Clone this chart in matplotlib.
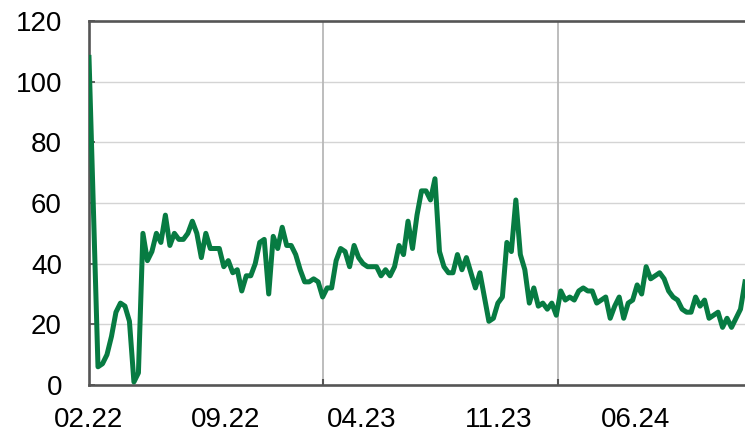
import numpy as np
import pandas as pd
import matplotlib
matplotlib.use("Agg")
from matplotlib import pyplot as plt
import matplotlib.dates as mdates

# weekly series
start_date = "2022-02-01"
values = [108, 57, 6, 7, 10, 16, 24, 27, 26, 21, 1, 4, 50, 41, 44, 50, 47, 56, 46, 50,
          48, 48, 50, 54, 50, 42, 50, 45, 45, 45, 39, 41, 37, 38, 31, 36, 36, 40, 47, 48,
          30, 49, 45, 52, 46, 46, 43, 38, 34, 34, 35, 34, 29, 32, 32, 41, 45, 44, 39, 46,
          42, 40, 39, 39, 39, 36, 38, 36, 39, 46, 43, 54, 45, 56, 64, 64, 61, 68, 44, 39,
          37, 37, 43, 38, 42, 37, 32, 37, 29, 21, 22, 27, 29, 47, 44, 61, 43, 38, 27, 32,
          26, 27, 25, 27, 23, 31, 28, 29, 28, 31, 32, 31, 31, 27, 28, 29, 22, 26, 29, 22,
          27, 28, 33, 30, 39, 35, 36, 37, 35, 31, 29, 28, 25, 24, 24, 29, 26, 28, 22, 23,
          24, 19, 22, 19, 22, 25, 34]

tick_dates = ["2022-02-01", "2022-09-01", "2023-04-01", "2023-11-01", "2024-06-01"]
tick_labels = ["02.22", "09.22", "04.23", "11.23", "06.24"]
grid_dates = ["2023-02-01", "2024-02-01"]
y_ticks = [0, 20, 40, 60, 80, 100, 120]

dates = pd.date_range(start_date, periods=len(values), freq="7D")

plt.rcParams['font.family'] = ['Liberation Sans', 'DejaVu Sans']

fig = plt.figure(figsize=(7.45, 4.32), dpi=100)
ax = fig.add_axes([89 / 745, 1 - 385 / 432, 1 - 89 / 745, (385 - 21) / 432])

spine_col = "#555555"

# horizontal grid
for yv in y_ticks[1:-1]:
    ax.axhline(yv, color="#d4d4d4", lw=1.0, zorder=1)
# vertical grid
for gd in grid_dates:
    ax.axvline(pd.Timestamp(gd), color="#b8b8b8", lw=1.3, zorder=1)

ax.plot(dates, values, color="#077b42", lw=3.6, solid_joinstyle="round", zorder=3)

ax.set_ylim(0, 120)
ax.set_xlim(dates[0], dates[-1])
ax.set_yticks(y_ticks)
ax.tick_params(axis="y", direction="in", length=4, width=1.3, color=spine_col,
               labelsize=20, pad=19.5)

# labels without marks, small marks at the grid positions
ax.set_xticks(pd.to_datetime(tick_dates))
ax.set_xticklabels(tick_labels)
ax.tick_params(axis="x", length=0, labelsize=20, pad=15.5)
ax.set_xticks(pd.to_datetime(grid_dates), minor=True)
ax.tick_params(axis="x", which="minor", direction="in", length=4, width=1.5,
               color=spine_col)

for side in ["left", "top", "bottom"]:
    ax.spines[side].set_color(spine_col)
    ax.spines[side].set_linewidth(1.9)
ax.spines["right"].set_visible(False)

fig.savefig("out.png", dpi=100)
